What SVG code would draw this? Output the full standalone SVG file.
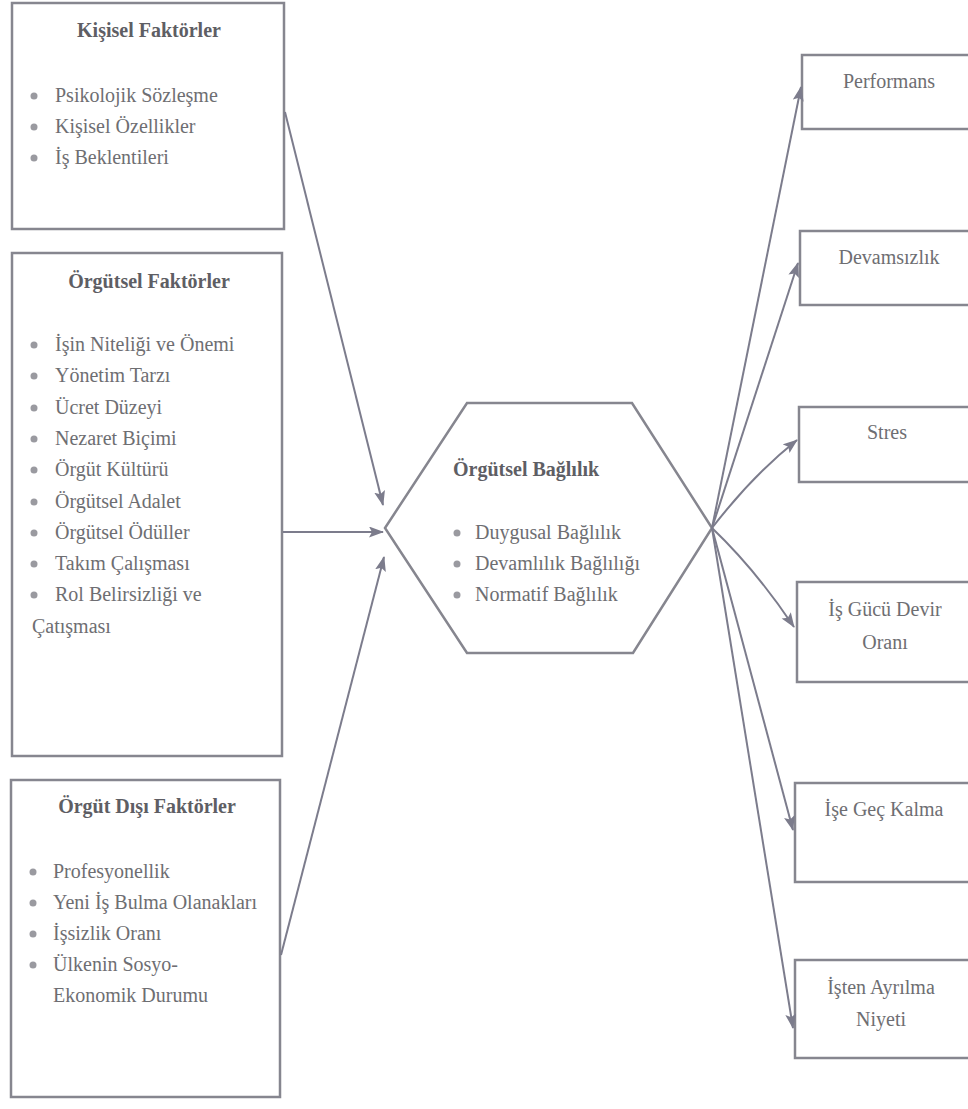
<svg xmlns="http://www.w3.org/2000/svg" width="968" height="1109" viewBox="0 0 968 1109">
<defs>
<marker id="arr" markerUnits="userSpaceOnUse" markerWidth="16" markerHeight="12" refX="14" refY="5.5" orient="auto">
<path d="M0,0 L15,5.5 L0,11 L3,5.5 z" fill="#7c7c8c"/>
</marker>
<style>
.box{fill:#fff;stroke:#86868f;stroke-width:2.5}
.t{font-family:"Liberation Serif","Times New Roman",serif;font-size:20px;fill:#6e6e72}
.h{font-family:"Liberation Serif","Times New Roman",serif;font-size:20px;font-weight:bold;fill:#5e5e64}
.c{text-anchor:middle}
.dot{fill:#9a9aa0}
.con{fill:none;stroke:#7c7c8c;stroke-width:2;marker-end:url(#arr)}
</style>
</defs>
<rect width="968" height="1109" fill="#fff"/>

<g id="kisisel">
<rect class="box" x="12" y="3" width="272" height="226"/>
<text class="h c" x="149" y="37">Kişisel Faktörler</text>
<circle class="dot" cx="34" cy="96" r="3.5"/><text class="t" x="55" y="102">Psikolojik Sözleşme</text>
<circle class="dot" cx="34" cy="127" r="3.5"/><text class="t" x="55" y="133">Kişisel Özellikler</text>
<circle class="dot" cx="34" cy="158" r="3.5"/><text class="t" x="55" y="164">İş Beklentileri</text>
</g>

<g id="orgutsel">
<rect class="box" x="12" y="253" width="270" height="503"/>
<text class="h c" x="149" y="288">Örgütsel Faktörler</text>
<circle class="dot" cx="34" cy="345" r="3.5"/><text class="t" x="55" y="351">İşin Niteliği ve Önemi</text>
<circle class="dot" cx="34" cy="376" r="3.5"/><text class="t" x="55" y="382">Yönetim Tarzı</text>
<circle class="dot" cx="34" cy="408" r="3.5"/><text class="t" x="55" y="414">Ücret Düzeyi</text>
<circle class="dot" cx="34" cy="439" r="3.5"/><text class="t" x="55" y="445">Nezaret Biçimi</text>
<circle class="dot" cx="34" cy="470" r="3.5"/><text class="t" x="55" y="476">Örgüt Kültürü</text>
<circle class="dot" cx="34" cy="502" r="3.5"/><text class="t" x="55" y="508">Örgütsel Adalet</text>
<circle class="dot" cx="34" cy="533" r="3.5"/><text class="t" x="55" y="539">Örgütsel Ödüller</text>
<circle class="dot" cx="34" cy="564" r="3.5"/><text class="t" x="55" y="570">Takım Çalışması</text>
<circle class="dot" cx="34" cy="595" r="3.5"/><text class="t" x="55" y="601">Rol Belirsizliği ve</text>
<text class="t" x="32" y="633">Çatışması</text>
</g>

<g id="orgut-disi">
<rect class="box" x="11" y="780" width="269" height="317"/>
<text class="h c" x="147" y="813">Örgüt Dışı Faktörler</text>
<circle class="dot" cx="33" cy="872" r="3.5"/><text class="t" x="53" y="878">Profesyonellik</text>
<circle class="dot" cx="33" cy="903" r="3.5"/><text class="t" x="53" y="909">Yeni İş Bulma Olanakları</text>
<circle class="dot" cx="33" cy="934" r="3.5"/><text class="t" x="53" y="940">İşsizlik Oranı</text>
<circle class="dot" cx="33" cy="965" r="3.5"/><text class="t" x="53" y="971">Ülkenin Sosyo-</text>
<text class="t" x="53" y="1002">Ekonomik Durumu</text>
</g>

<g id="orgutsel-baglilik">
<polygon class="box" points="385,528 467,403 632,403 712,528 633,653 467,653"/>
<text class="h" x="453" y="476">Örgütsel Bağlılık</text>
<circle class="dot" cx="457" cy="533" r="3.5"/><text class="t" x="475" y="539">Duygusal Bağlılık</text>
<circle class="dot" cx="457" cy="564" r="3.5"/><text class="t" x="475" y="570">Devamlılık Bağlılığı</text>
<circle class="dot" cx="457" cy="595" r="3.5"/><text class="t" x="475" y="601">Normatif Bağlılık</text>
</g>

<g id="performans">
<rect class="box" x="802" y="55" width="180" height="74"/>
<text class="t c" x="889" y="88">Performans</text>
</g>
<g id="devamsizlik">
<rect class="box" x="800" y="231" width="182" height="74"/>
<text class="t c" x="889" y="264">Devamsızlık</text>
</g>
<g id="stres">
<rect class="box" x="799" y="407" width="183" height="75"/>
<text class="t c" x="887" y="439">Stres</text>
</g>
<g id="is-gucu">
<rect class="box" x="797" y="582" width="185" height="100"/>
<text class="t c" x="885" y="616">İş Gücü Devir</text>
<text class="t c" x="885" y="649">Oranı</text>
</g>
<g id="ise-gec">
<rect class="box" x="795" y="783" width="187" height="99"/>
<text class="t c" x="884" y="816">İşe Geç Kalma</text>
</g>
<g id="isten-ayrilma">
<rect class="box" x="795" y="960" width="187" height="98"/>
<text class="t c" x="881" y="994">İşten Ayrılma</text>
<text class="t c" x="881" y="1026">Niyeti</text>
</g>

<g id="connectors">
<path class="con" d="M285,112 L383,505"/>
<path class="con" d="M283,532 L383,532"/>
<path class="con" d="M281,955 L384,557"/>
<path class="con" d="M712,528 L801,87"/>
<path class="con" d="M712,528 L798,263"/>
<path class="con" d="M712,528 Q752,476 797,440"/>
<path class="con" d="M712,528 Q756,570 794,627"/>
<path class="con" d="M712,528 L793,830"/>
<path class="con" d="M712,528 L793,1028"/>
</g>
</svg>
